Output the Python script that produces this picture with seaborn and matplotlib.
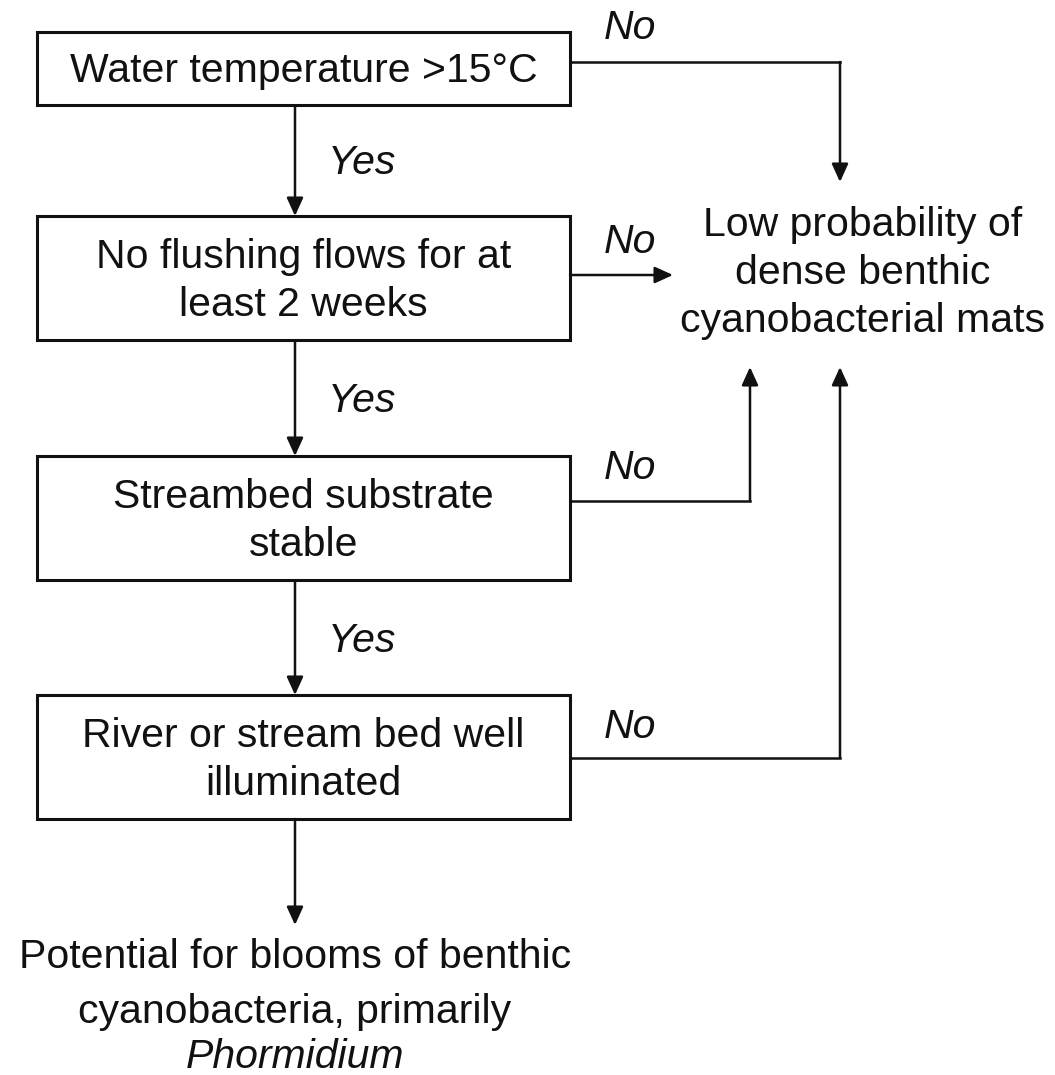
import matplotlib
matplotlib.use("Agg")
import matplotlib.pyplot as plt
import seaborn as sns
from matplotlib.patches import Rectangle

# ---- content ----
box_labels = [
    "Water temperature >15°C",
    "No flushing flows for at\nleast 2 weeks",
    "Streambed substrate\nstable",
    "River or stream bed well\nilluminated",
]
yes_label = "Yes"
no_label = "No"
outcome_low = "Low probability of\ndense benthic\ncyanobacterial mats"
outcome_bloom_lines = ["Potential for blooms of benthic", "cyanobacteria, primarily"]
outcome_bloom_genus = "Phormidium"

# ---- layout (pixel coordinates) ----
box_x0, box_x1 = 37, 570
box_tops = [32, 216, 456, 695]
box_bottoms = [105, 340, 580, 819]
spine_x = 295
yes_label_x = 362
no_label_x = 630
no_label_y = [28, 242, 468, 727]
branch_y = [62, 275, 501, 758]
low_x = 863
low_text_y = 273
right_x = 840
mid_x = 750
arrow_up_tip = 367
arrow_down_tip = 182
arrow2_tip = 673
bloom_y = [957, 1012, 1057]

sns.set_theme(style="white")
plt.rcParams['font.family'] = ['Liberation Sans', 'DejaVu Sans']

fig = plt.figure(figsize=(10.55, 10.75), dpi=100)
ax = fig.add_axes([0, 0, 1, 1])
ax.set_xlim(0, 1055)
ax.set_ylim(1075, 0)
ax.axis("off")

FS = 29.5
LW = 1.8
col = "#111111"

def arrow(x0, y0, x1, y1):
    ax.annotate("", xy=(x1, y1), xytext=(x0, y0),
                arrowprops=dict(arrowstyle="-|>,head_length=0.55,head_width=0.25",
                                mutation_scale=20, lw=LW, color=col,
                                shrinkA=0, shrinkB=0))

# boxes
for lab, t, b in zip(box_labels, box_tops, box_bottoms):
    ax.add_patch(Rectangle((box_x0, t), box_x1 - box_x0, b - t, fill=False,
                           lw=2.2, edgecolor=col))
    ax.text((box_x0 + box_x1) / 2, (t + b) / 2 + 3, lab, ha="center", va="center",
            fontsize=FS, color=col, linespacing=1.36)

# vertical "Yes" arrows
yes_starts = [b + 2 for b in box_bottoms[:3]]
yes_ends = box_tops[1:]
for s, e in zip(yes_starts, yes_ends):
    arrow(spine_x, s, spine_x, e)
    ax.text(yes_label_x, (s + e) / 2 + 2, yes_label, ha="center", va="center",
            fontsize=FS, style="italic", color=col)

# final arrow to bloom outcome
arrow(spine_x, box_bottoms[3], spine_x, 925)
ax.text(spine_x, bloom_y[0], outcome_bloom_lines[0], ha="center", va="center", fontsize=FS, color=col)
ax.text(spine_x, bloom_y[1], outcome_bloom_lines[1], ha="center", va="center", fontsize=FS, color=col)
ax.text(spine_x, bloom_y[2], outcome_bloom_genus, ha="center", va="center", fontsize=FS,
        style="italic", color=col)

# "No" branches
ax.plot([box_x1, right_x], [branch_y[0], branch_y[0]], color=col, lw=LW, solid_capstyle="projecting")
arrow(right_x, branch_y[0], right_x, arrow_down_tip)
arrow(box_x1, branch_y[1], arrow2_tip, branch_y[1])
ax.plot([box_x1, mid_x], [branch_y[2], branch_y[2]], color=col, lw=LW, solid_capstyle="projecting")
arrow(mid_x, branch_y[2], mid_x, arrow_up_tip)
ax.plot([box_x1, right_x], [branch_y[3], branch_y[3]], color=col, lw=LW, solid_capstyle="projecting")
arrow(right_x, branch_y[3], right_x, arrow_up_tip)

for y in no_label_y:
    ax.text(no_label_x, y, no_label, ha="center", va="center", fontsize=FS,
            style="italic", color=col)

ax.text(low_x, low_text_y, outcome_low, ha="center", va="center", fontsize=FS,
        color=col, linespacing=1.32)

fig.savefig("out.png", dpi=100, facecolor="white")
